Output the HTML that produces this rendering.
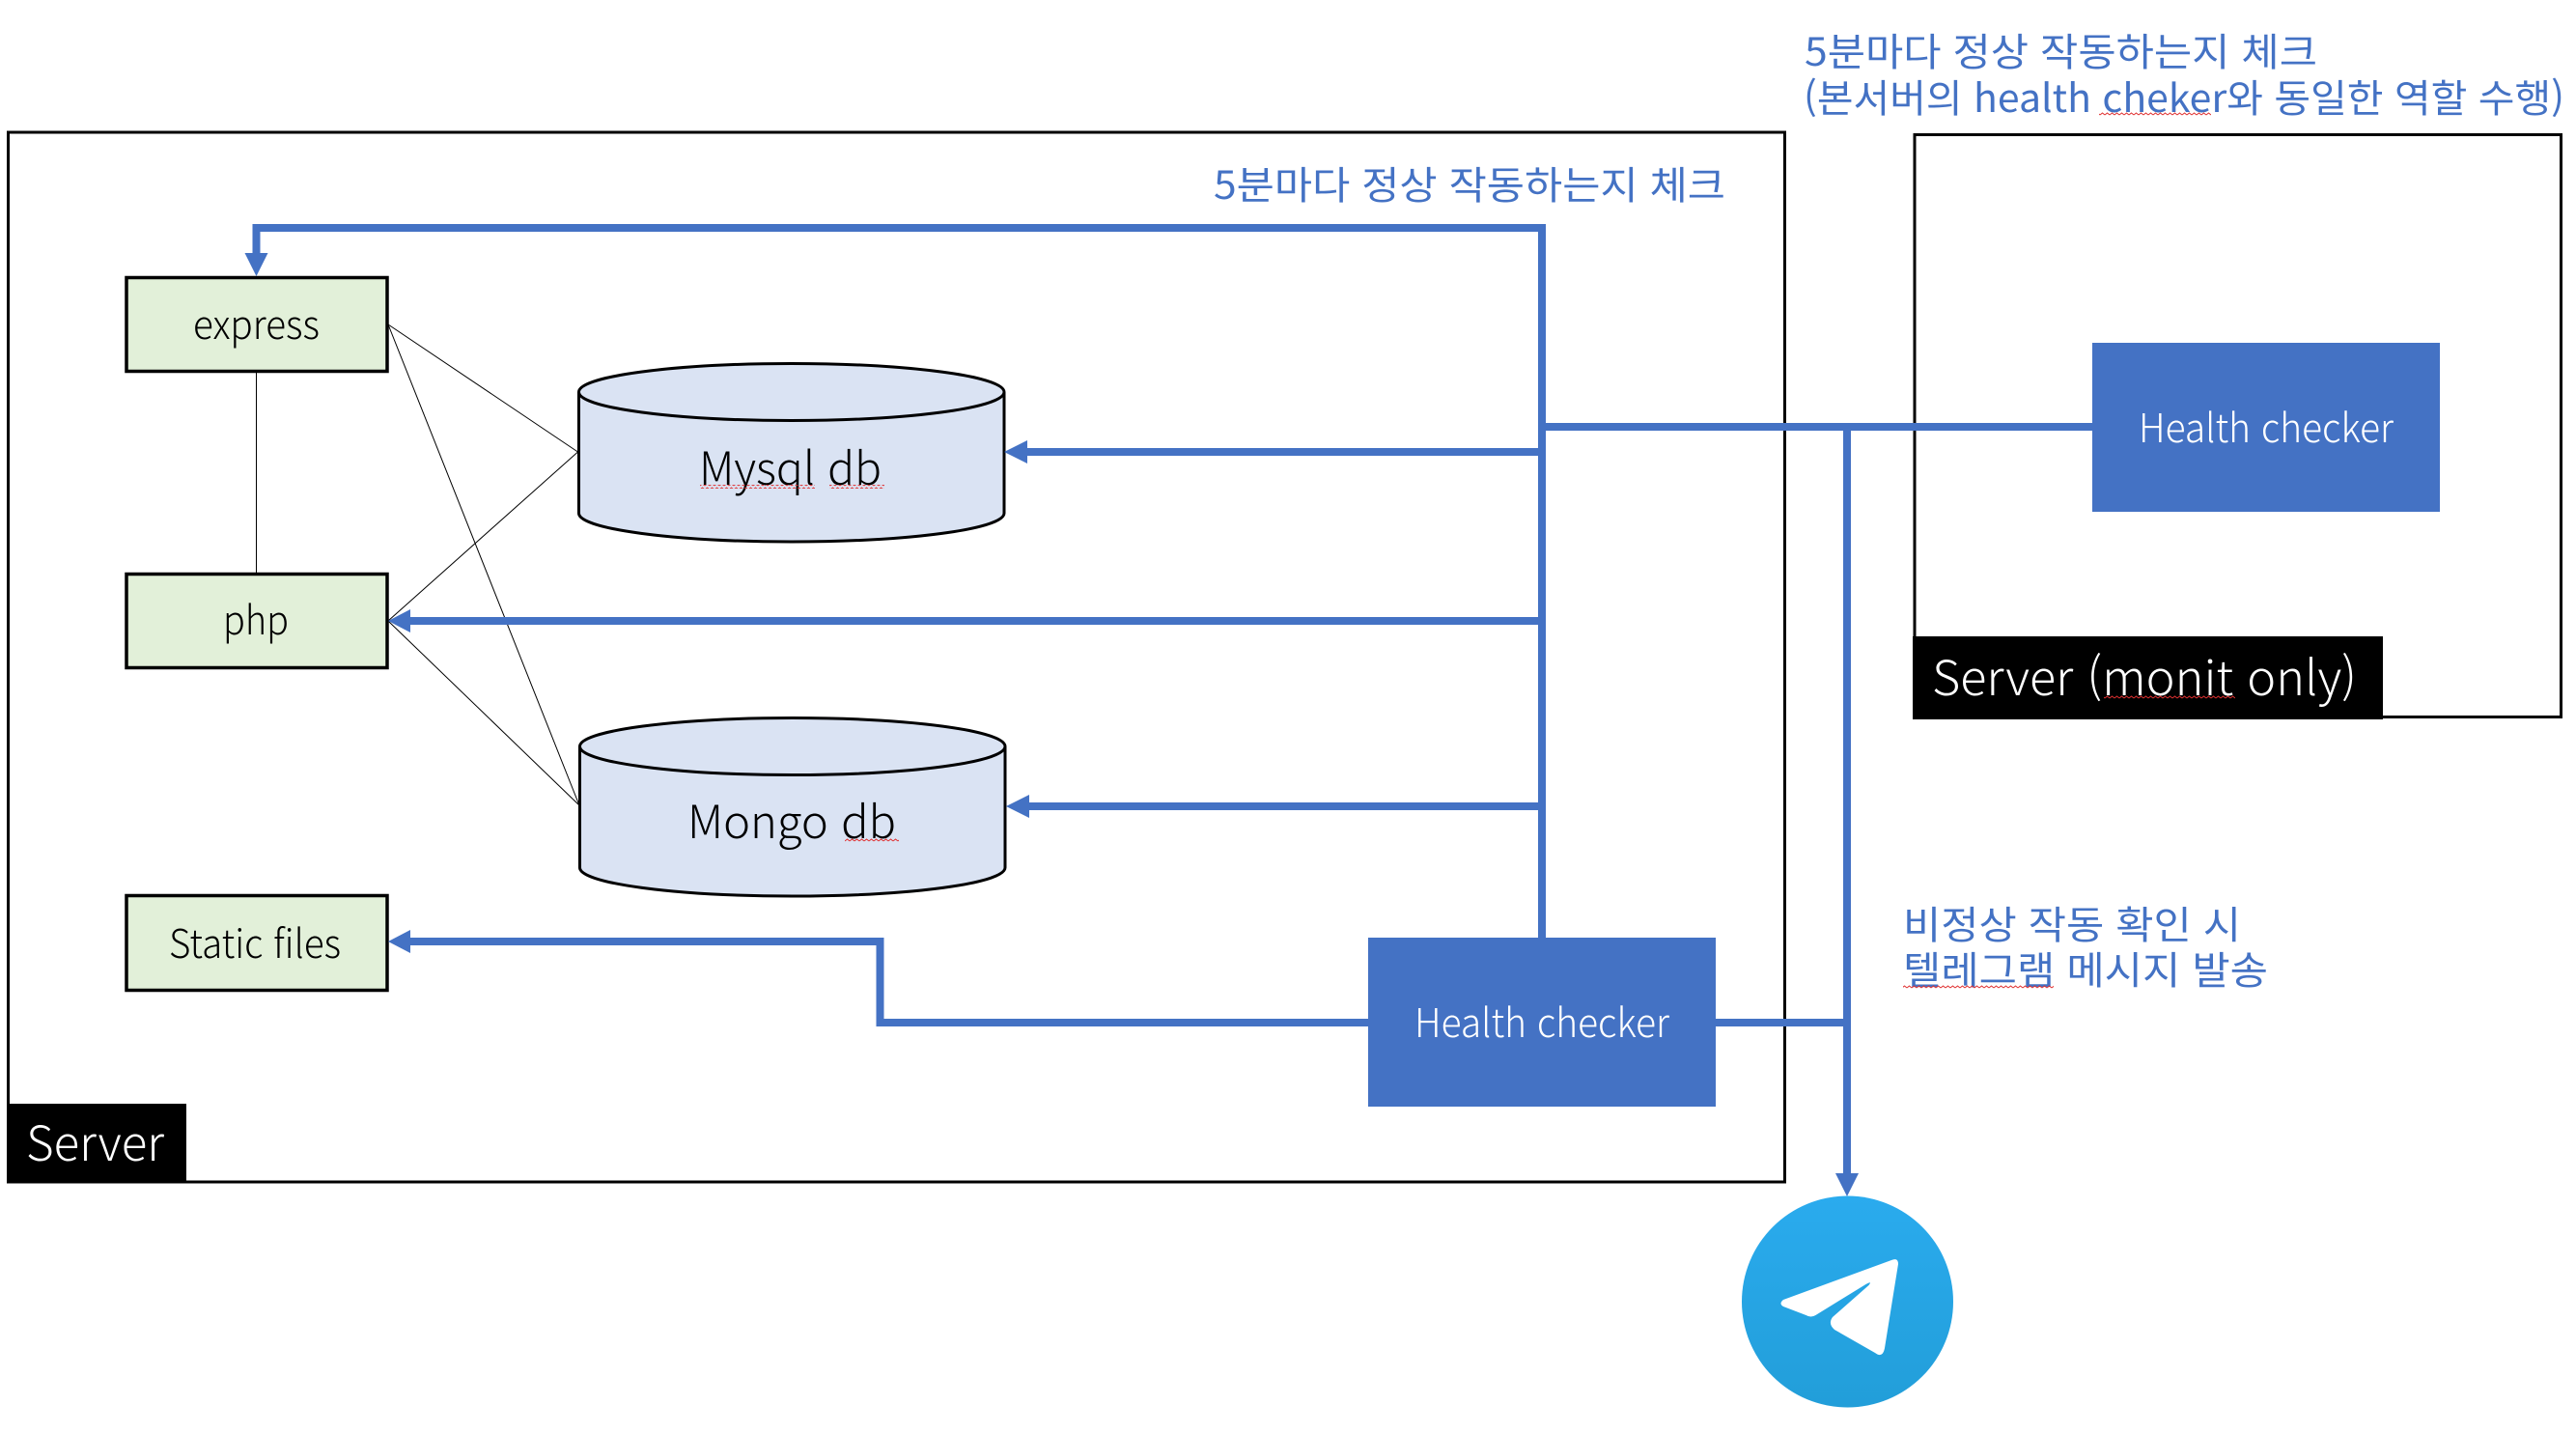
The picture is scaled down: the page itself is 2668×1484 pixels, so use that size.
<!DOCTYPE html>
<html lang="ko">
<head>
<meta charset="utf-8">
<title>Health checker diagram</title>
<style>
html,body{margin:0;padding:0;background:#fff;width:2668px;height:1484px;overflow:hidden}
svg{display:block}
text{font-family:"Noto Sans CJK KR","Liberation Sans",sans-serif;font-weight:300}
.k{fill:#000;font-size:41px}
.w{fill:#fff;font-size:41px}
.b{fill:#4472C4;font-size:40px;font-weight:400}
.big{font-size:50px}
.bl{stroke:#4472C4;stroke-width:8;fill:none}
.th{stroke:#000;stroke-width:1;fill:none}
.ah{fill:#4472C4}
.box{fill:#E2F0D9;stroke:#000;stroke-width:3.5}
.cy{fill:#DAE3F3;stroke:#000;stroke-width:3}
</style>
</head>
<body>
<svg width="2668" height="1484" viewBox="0 0 2668 1484" xmlns="http://www.w3.org/2000/svg">
<defs>
<linearGradient id="tg" x1="0" y1="0" x2="0" y2="1"><stop offset="0" stop-color="#2AABEE"/><stop offset="1" stop-color="#229ED9"/></linearGradient>
<pattern id="sq" width="5" height="4" patternUnits="userSpaceOnUse"><path d="M0 3L2.5 1L5 3" fill="none" stroke="#e03030" stroke-width="1"/></pattern>
</defs>
<rect width="2668" height="1484" fill="#fff"/>

<!-- server frames -->
<rect x="8.5" y="137" width="1840" height="1087" fill="none" stroke="#000" stroke-width="3"/>
<rect x="1983" y="139.5" width="669.5" height="603" fill="none" stroke="#000" stroke-width="3"/>
<rect x="7" y="1143" width="186" height="82.5" fill="#000"/>
<rect x="1981" y="659" width="487" height="86" fill="#000"/>

<!-- thin connectors -->
<path class="th" d="M265.5 386V593M402 336L598.5 468M402 643L598.5 468M402 336L600 834M402 643L600 834"/>

<!-- green boxes -->
<rect class="box" x="131" y="287.5" width="270" height="97"/>
<rect class="box" x="131" y="594.5" width="270" height="97"/>
<rect class="box" x="131" y="927.5" width="270" height="98"/>

<!-- cylinders -->
<path class="cy" d="M599.5 406V531.5a220.25 29.5 0 0 0 440.5 0V406a220.25 29.5 0 0 0 -440.5 0z"/>
<path class="cy" d="M599.5 406a220.25 29.5 0 0 0 440.5 0"/>
<path class="cy" d="M600.5 773V898.5a220.25 29.5 0 0 0 440.5 0V773a220.25 29.5 0 0 0 -440.5 0z"/>
<path class="cy" d="M600.5 773a220.25 29.5 0 0 0 440.5 0"/>

<!-- blue connectors -->
<path class="bl" d="M1597 972V236H265.5V263"/>
<path class="bl" d="M1597 468H1063"/>
<path class="bl" d="M1597 643H424"/>
<path class="bl" d="M1597 835H1065"/>
<path class="bl" d="M1597 442H2168"/>
<path class="bl" d="M1913 442V1216"/>
<path class="bl" d="M1776 1059H1917"/>
<path class="bl" d="M1418 1059H911.5V975H424"/>

<!-- arrowheads -->
<polygon class="ah" points="253.5,262 277.5,262 265.5,286"/>
<polygon class="ah" points="1040,468 1064,456 1064,480"/>
<polygon class="ah" points="402,643 425,631 425,655"/>
<polygon class="ah" points="1042,835 1066,823 1066,847"/>
<polygon class="ah" points="402,975 425,963 425,987"/>
<polygon class="ah" points="1901,1215 1925,1215 1913,1239"/>

<!-- health checkers -->
<rect x="1417" y="971" width="360" height="175" fill="#4472C4"/>
<rect x="2167" y="355" width="360" height="175" fill="#4472C4"/>

<!-- telegram -->
<circle cx="1913.5" cy="1348" r="109.5" fill="url(#tg)"/>
<path d="M1959 1305Q1966 1302 1966 1309L1952 1396Q1950 1407 1942 1401L1900 1377Q1893 1371 1898 1364L1935.5 1331Q1939.5 1326 1932.5 1330L1880.5 1362Q1875.5 1365 1870.5 1362L1847 1353Q1842 1350 1847 1346Z" fill="#fff"/>

<!-- labels -->
<text class="k" x="200" y="351" textLength="131" lengthAdjust="spacingAndGlyphs">express</text>
<text class="k" x="231" y="657" textLength="68" lengthAdjust="spacingAndGlyphs">php</text>
<text class="k" x="175" y="992" textLength="178" lengthAdjust="spacingAndGlyphs">Static files</text>
<text class="k" x="724" y="502" textLength="189" lengthAdjust="spacingAndGlyphs" style="font-size:47px">Mysql db</text>
<text class="k" x="712" y="868" textLength="216" lengthAdjust="spacingAndGlyphs" style="font-size:47px">Mongo db</text>
<text class="w big" x="27" y="1202" textLength="143" lengthAdjust="spacingAndGlyphs">Server</text>
<text class="w big" x="2001" y="720" textLength="440" lengthAdjust="spacingAndGlyphs">Server (monit only)</text>
<text class="w" x="1465" y="1074" textLength="264" lengthAdjust="spacingAndGlyphs">Health checker</text>
<text class="w" x="2215" y="458" textLength="264" lengthAdjust="spacingAndGlyphs">Health checker</text>
<text class="b" x="1257" y="206" textLength="530" lengthAdjust="spacingAndGlyphs">5분마다 정상 작동하는지 체크</text>
<text class="b" x="1869" y="68" textLength="531" lengthAdjust="spacingAndGlyphs">5분마다 정상 작동하는지 체크</text>
<text class="b" x="1868" y="116" textLength="788" lengthAdjust="spacingAndGlyphs">(본서버의 health cheker와 동일한 역할 수행)</text>
<text class="b" x="1971" y="972" textLength="350" lengthAdjust="spacingAndGlyphs">비정상 작동 확인 시</text>
<text class="b" x="1971" y="1019" textLength="378" lengthAdjust="spacingAndGlyphs">텔레그램 메시지 발송</text>

<!-- spell-check squiggles -->
<rect x="725" y="502" width="119" height="4" fill="url(#sq)"/>
<rect x="859" y="502" width="57" height="4" fill="url(#sq)"/>
<rect x="875" y="868" width="56" height="4" fill="url(#sq)"/>
<rect x="2179" y="720" width="136" height="4" fill="url(#sq)"/>
<rect x="2174" y="116" width="116" height="4" fill="url(#sq)"/>
<rect x="1971" y="1020" width="156" height="4" fill="url(#sq)"/>
</svg>
</body>
</html>
